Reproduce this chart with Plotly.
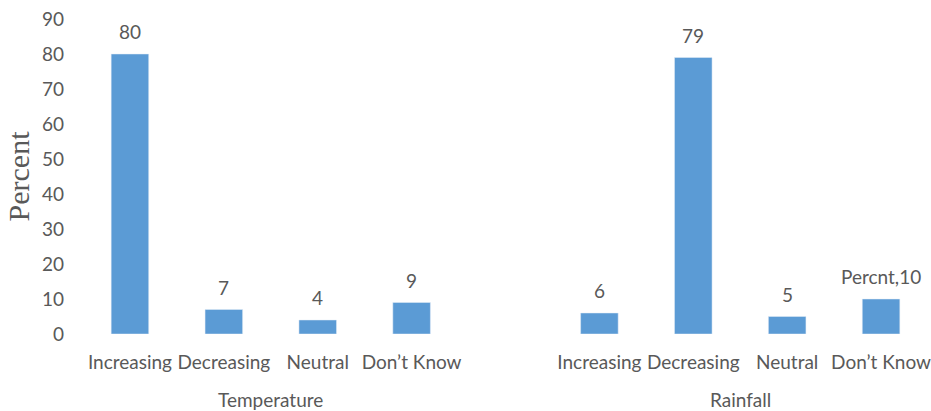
import plotly.graph_objects as go

groups = ["Temperature", "Rainfall"]
categories = ["Increasing", "Decreasing", "Neutral", "Don’t Know"]
temperature = [80, 7, 4, 9]
rainfall = [6, 79, 5, 10]
label_temperature = ["80", "7", "4", "9"]
label_rainfall = ["6", "79", "5", "Percnt,10"]
y_ticks = [0, 10, 20, 30, 40, 50, 60, 70, 80, 90]

font_fam = "Lato, 'Open Sans', sans-serif"
gray = "#595959"
blue = "#5B9BD5"
fs = 19

xs, ys, texts, ticktext = [], [], [], []
series = [temperature, rainfall]
labels = [label_temperature, label_rainfall]
group_centers = []
for gi, g in enumerate(groups):
    start = gi * (len(categories) + 1)
    pos = [start + i for i in range(len(categories))]
    xs += pos
    ys += series[gi]
    texts += labels[gi]
    ticktext += categories
    group_centers.append(sum(pos) / len(pos))

fig = go.Figure()
fig.add_trace(go.Bar(
    x=xs, y=ys,
    marker=dict(color=blue), width=0.4,
))

for x, y, t in zip(xs, ys, texts):
    fig.add_annotation(x=x, y=y, xref="x", yref="y", yanchor="bottom",
                       yshift=9, text=t, showarrow=False,
                       font=dict(family=font_fam, size=fs, color=gray))

for gi, g in enumerate(groups):
    fig.add_annotation(x=group_centers[gi], y=0, xref="x", yref="y",
                       yshift=-65, text=g, showarrow=False,
                       font=dict(family=font_fam, size=fs, color=gray))

fig.update_layout(
    width=931, height=411,
    margin=dict(l=83, r=3, t=19, b=77),
    plot_bgcolor="white", paper_bgcolor="white",
    showlegend=False,
    xaxis=dict(range=[-0.5, 8.5], tickvals=xs, ticktext=ticktext,
               showgrid=False, zeroline=False, showline=False,
               tickfont=dict(family=font_fam, size=fs, color=gray),
               ticklabelstandoff=15, ticklabeloverflow="allow",
               automargin=False),
    yaxis=dict(range=[0, 90], tickvals=y_ticks, showgrid=False,
               zeroline=False, showline=False, automargin=False,
               tickfont=dict(family=font_fam, size=fs, color=gray),
               ticklabelstandoff=18,
               title=dict(text="Percent", standoff=3,
                          font=dict(family="Liberation Serif", size=30, color=gray))),
)

fig.write_html("out.html")
